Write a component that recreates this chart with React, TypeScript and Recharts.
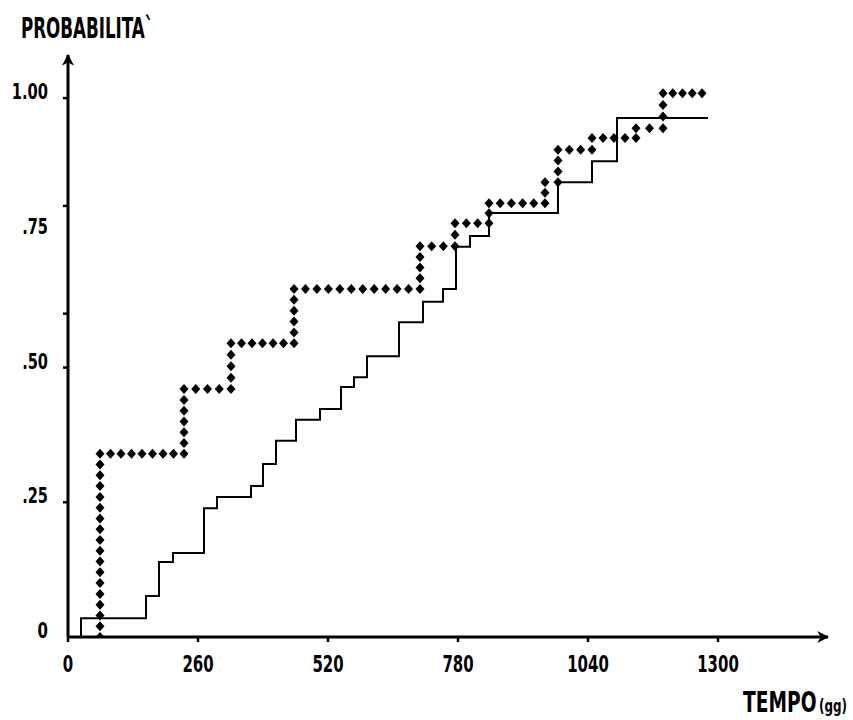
import { Line, LineChart, XAxis, YAxis } from "recharts";

// solid step curve: day of each jump and the probability reached there
const solidDays = [26, 26, 156, 182, 210, 272, 298, 366, 390, 416, 456, 504, 546, 572, 598, 662, 710, 750, 776, 804, 842, 980, 1048, 1098, 1280];
const solidProb = [0, 0.035, 0.076, 0.139, 0.156, 0.239, 0.26, 0.28, 0.321, 0.364, 0.403, 0.423, 0.464, 0.482, 0.521, 0.584, 0.622, 0.646, 0.724, 0.744, 0.787, 0.844, 0.883, 0.963, 0.963];

// diamond step curve
const dottedDays = [64, 64, 232, 326, 452, 704, 774, 842, 954, 980, 1048, 1136, 1190, 1268];
const dottedProb = [0, 0.34, 0.46, 0.545, 0.646, 0.725, 0.768, 0.805, 0.844, 0.904, 0.926, 0.944, 1.009, 1.009];

const xTicks = [0, 260, 520, 780, 1040, 1300];
const yTicks = [0, 0.25, 0.5, 0.6, 0.75, 0.8, 1];
const yTickLabels = ["0", ".25", ".50", "", ".75", "", "1.00"];
const yTickMarks = [0.25, 0.5, 0.6, 0.8, 1];

const FONT = "'Liberation Sans Narrow', 'DejaVu Sans Condensed', 'Arial Narrow', sans-serif";

const solidData = solidDays.map((t, i) => ({ t, p: solidProb[i] }));
const dottedData = dottedDays.map((t, i) => ({ t, p: dottedProb[i] }));

// squeeze labels to the narrow lettering of the original
const labelWidth = (s: string) => s.split("").reduce((w, c) => w + (c === "." ? 5 : 10.4), 0);

function XTick(props: any) {
  const { x, y, payload } = props;
  const s = String(payload.value);
  return (
    <g>
      <line x1={x} y1={y} x2={x} y2={y + 5} stroke="#000" strokeWidth={2.5} />
      <text x={x} y={y + 35} textAnchor="middle" fontFamily={FONT} fontWeight="bold" fontSize={23} fill="#000"
        textLength={labelWidth(s)} lengthAdjust="spacingAndGlyphs">
        {s}
      </text>
    </g>
  );
}

function YTick(props: any) {
  const { x, y, payload } = props;
  const s = yTickLabels[yTicks.indexOf(payload.value)] ?? "";
  return (
    <g>
      {yTickMarks.includes(payload.value) && (
        <line x1={x - 5} y1={y} x2={x} y2={y} stroke="#000" strokeWidth={2.5} />
      )}
      {s !== "" && (
        <text x={x - 20} y={y + 1} textAnchor="end" fontFamily={FONT} fontWeight="bold" fontSize={22} fill="#000"
          textLength={labelWidth(s)} lengthAdjust="spacingAndGlyphs">
          {s}
        </text>
      )}
    </g>
  );
}

// draws the diamond "dotted" stroke along the whole step path, using the pixel points of the line
function Diamonds(props: any) {
  const { index, points } = props;
  if (index !== 0 || !points) return <g key={`dm-${index}`} />;
  const corners: { x: number; y: number }[] = [];
  points.forEach((pt: any, i: number) => {
    if (i > 0) corners.push({ x: pt.x, y: points[i - 1].y });
    corners.push({ x: pt.x, y: pt.y });
  });
  const marks: { x: number; y: number }[] = [];
  for (let i = 0; i < corners.length - 1; i++) {
    const a = corners[i];
    const b = corners[i + 1];
    const len = Math.hypot(b.x - a.x, b.y - a.y);
    if (len < 0.5) continue;
    const n = Math.max(1, Math.round(len / 11));
    for (let k = 0; k < n; k++) {
      marks.push({ x: a.x + ((b.x - a.x) * k) / n, y: a.y + ((b.y - a.y) * k) / n });
    }
  }
  marks.push(corners[corners.length - 1]);
  return (
    <g key="dm-0">
      {marks.map((m, j) => (
        <polygon
          key={j}
          points={`${m.x},${m.y - 5} ${m.x + 4.5},${m.y} ${m.x},${m.y + 5} ${m.x - 4.5},${m.y}`}
          fill="#000"
        />
      ))}
    </g>
  );
}

export default function App() {
  return (
    <div style={{ position: "absolute", left: 0, top: 0, width: 853, height: 720, background: "#fff" }}>
      <svg width={853} height={720} style={{ position: "absolute", left: 0, top: 0 }}>
        <defs>
          <marker id="arrowHead" viewBox="0 0 10 10" refX={9} refY={5} markerWidth={12} markerHeight={12}
            markerUnits="userSpaceOnUse" orient="auto-start-reverse">
            <path d="M0,0 L10,5 L0,10 L3,5 z" fill="#000" />
          </marker>
        </defs>
      </svg>
      <div style={{ position: "absolute", left: 0, top: 0 }}>
        <LineChart width={853} height={720} data={solidData} margin={{ top: 55, right: 25, bottom: 0, left: 0 }}>
          <XAxis
            dataKey="t"
            type="number"
            domain={[0, 1520]}
            ticks={xTicks}
            interval={0}
            height={83}
            tickSize={0}
            tickMargin={0}
            tickLine={false}
            tick={<XTick />}
            axisLine={{ stroke: "#000", strokeWidth: 3, markerEnd: "url(#arrowHead)" }}
            allowDataOverflow
          />
          <YAxis
            type="number"
            domain={[0, 1.08]}
            ticks={yTicks}
            interval={0}
            width={68}
            tickSize={0}
            tickMargin={0}
            tickLine={false}
            tick={<YTick />}
            axisLine={{ stroke: "#000", strokeWidth: 3, markerStart: "url(#arrowHead)" }}
            allowDataOverflow
          />
          <Line
            data={solidData}
            dataKey="p"
            type="stepAfter"
            stroke="#000"
            strokeWidth={2}
            dot={false}
            activeDot={false}
            isAnimationActive={false}
          />
          <Line
            data={dottedData}
            dataKey="p"
            type="stepAfter"
            stroke="none"
            dot={Diamonds}
            activeDot={false}
            isAnimationActive={false}
          />
        </LineChart>
      </div>
      <svg width={853} height={720} style={{ position: "absolute", left: 0, top: 0, pointerEvents: "none" }}>
        <text x={21} y={38} fontFamily={FONT} fontWeight="bold" fontSize={29} textLength={132}
          lengthAdjust="spacingAndGlyphs" fill="#000">
          PROBABILITA`
        </text>
        <text transform="translate(743,712) scale(0.74,1)" fontFamily={FONT} fontWeight="bold" fontSize={28} fill="#000">
          TEMPO
        </text>
        <text transform="translate(819,712) scale(0.78,1)" fontFamily={FONT} fontWeight="bold" fontSize={17} fill="#000">
          (gg)
        </text>
      </svg>
    </div>
  );
}
